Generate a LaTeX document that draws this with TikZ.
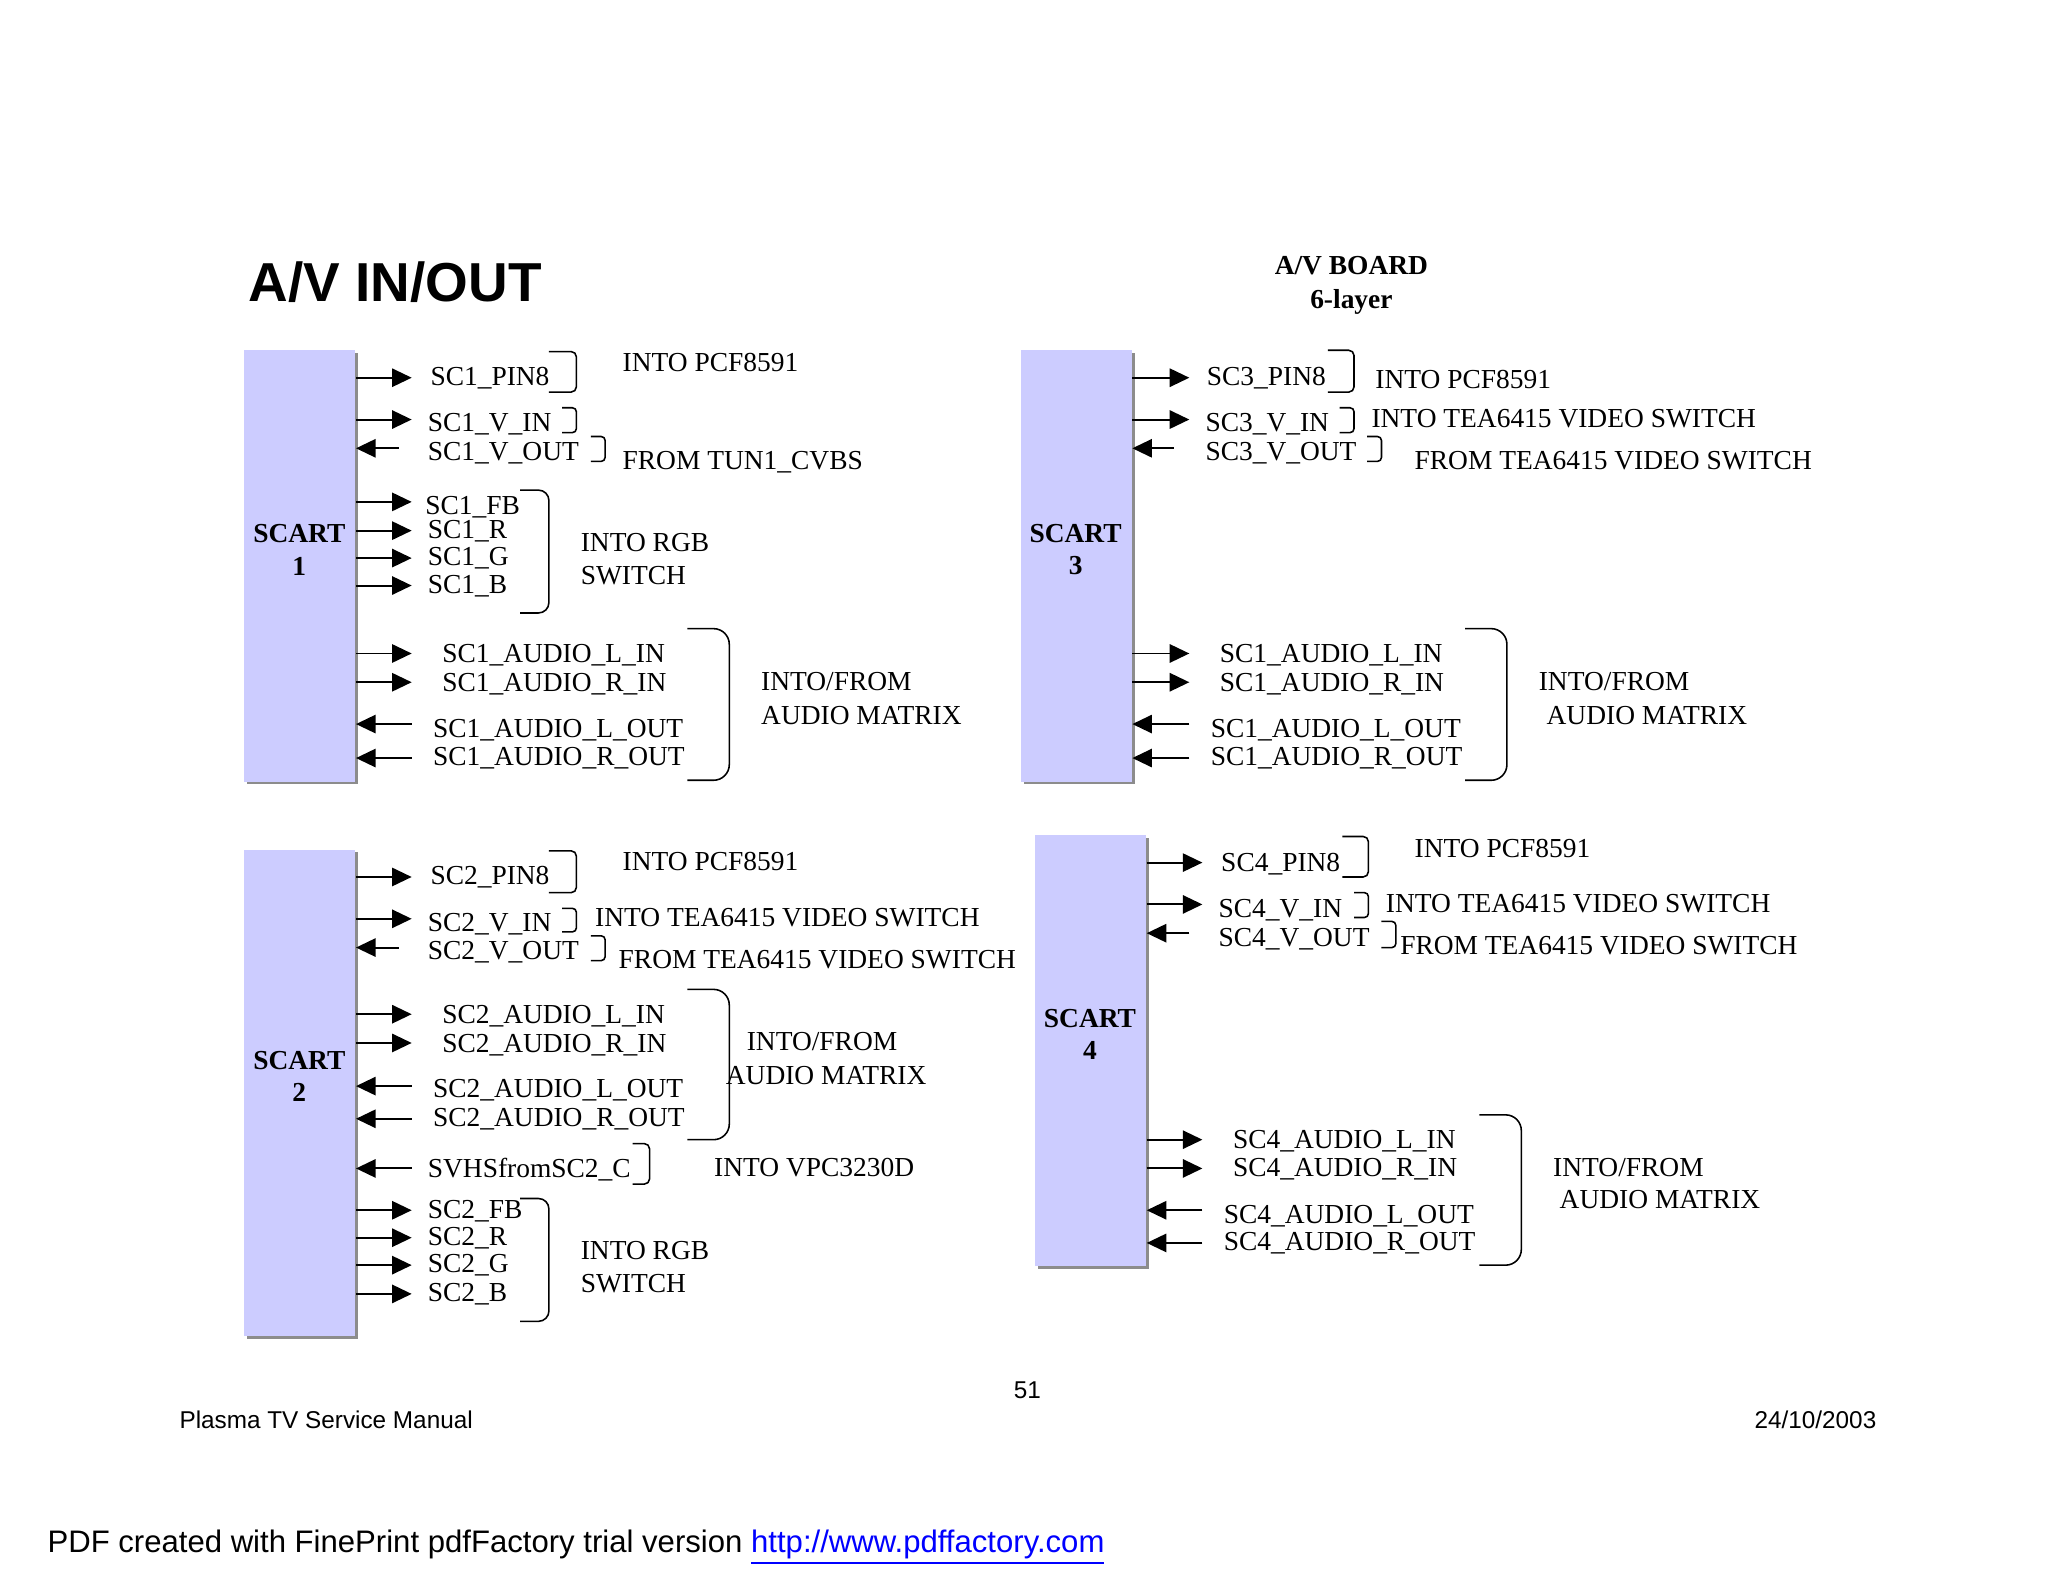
\documentclass[tikz,border=0pt]{standalone}
\usepackage{fontspec}
\setmainfont{Liberation Serif}
\newfontfamily\arialfont{Liberation Sans}
\usetikzlibrary{arrows.meta,shadows}
\definecolor{scartfill}{RGB}{204,204,255}
\definecolor{urlblue}{RGB}{0,0,255}
\tikzset{
  lbl/.style={anchor=base west, inner sep=0pt, font=\fontsize{10.5}{12}\selectfont},
  sigarr/.style={line width=0.75pt, -{Triangle[length=7.5pt,width=7pt]}},
  brk/.style={line width=0.6pt},
  scart/.style={fill=scartfill, draw=none, inner sep=0pt,
    drop shadow={shadow xshift=1.1pt, shadow yshift=-1.1pt, fill=black!45, opacity=1}},
  blbl/.style={font=\fontsize{10.5}{12.5}\selectfont\bfseries, align=center, inner sep=0pt},
  foot/.style={inner sep=0pt, font=\arialfont\fontsize{9.3}{11}\selectfont},
}
\newcommand\sigR[7]{%
  \coordinate (#2t) at (#4,#3);
  \draw[sigarr] (#1.east |- #2t) -- (#2t);
  \node[lbl] (#2) at (#5,#6) {#7};
}
\newcommand\sigL[7]{%
  \coordinate (#2t) at (#4,#3);
  \draw[sigarr] (#2t) -- (#1.east |- #2t);
  \node[lbl] (#2) at (#5,#6) {#7};
}
\newcommand\brk[5]{\draw[brk, rounded corners=#5] (#1,#3) -- (#2,#3) -- (#2,#4) -- (#1,#4);}
\begin{document}
\begin{tikzpicture}[x=0.5pt,y=-0.5pt]
\useasboundingbox[fill=white] (0,0) rectangle (1567,1210.5);

% header
\node[anchor=west, inner sep=0pt, font=\arialfont\bfseries\fontsize{21}{24}\selectfont] (title) at (190,216) {A/V IN/OUT};
\node[blbl, font=\fontsize{10.5}{13}\selectfont\bfseries] (board) at (1034,218) {A/V BOARD\\6-layer};

% SCART boxes
\node[scart, minimum width=42.5pt, minimum height=165pt] (s1) at (229.5,433) {};
\node[scart, minimum width=42.5pt, minimum height=186pt] (s2) at (229.5,836) {};
\node[scart, minimum width=42.5pt, minimum height=165pt] (s3) at (823.5,433) {};
\node[scart, minimum width=42.5pt, minimum height=165pt] (s4) at (834.5,804) {};
\node[blbl] (s1l) at (229,420.5) {SCART\\1};
\node[blbl] (s2l) at (229,823.5) {SCART\\2};
\node[blbl] (s3l) at (823,420.5) {SCART\\3};
\node[blbl] (s4l) at (834,791.5) {SCART\\4};

% ---- SCART 1 ----
\sigR{s1}{a1}{289}{315}{329}{295}{SC1\_PIN8}
\sigR{s1}{a2}{321}{315}{327}{330}{SC1\_V\_IN}
\sigL{s1}{a3}{343}{305}{327}{352}{SC1\_V\_OUT}
\sigR{s1}{a4}{384}{315}{325}{394}{SC1\_FB}
\sigR{s1}{a5}{406}{315}{327}{412}{SC1\_R}
\sigR{s1}{a6}{427}{315}{327}{433}{SC1\_G}
\sigR{s1}{a7}{448}{315}{327}{454}{SC1\_B}
\sigR{s1}{a8}{500}{315}{338}{507}{SC1\_AUDIO\_L\_IN}
\sigR{s1}{a9}{522}{315}{338}{529}{SC1\_AUDIO\_R\_IN}
\sigL{s1}{a10}{554}{315}{331}{564}{SC1\_AUDIO\_L\_OUT}
\sigL{s1}{a11}{580}{315}{331}{586}{SC1\_AUDIO\_R\_OUT}
\brk{420}{441}{269}{300}{2pt}
\brk{430}{441}{312}{331}{1.5pt}
\brk{452}{463}{334}{353}{1.5pt}
\brk{398}{420}{375}{469}{4pt}
\brk{526}{558}{481}{597}{6pt}
\node[lbl] (d1) at (476,284) {INTO PCF8591};
\node[lbl] (d2) at (476,359) {FROM TUN1\_CVBS};
\node[lbl] (d3) at (444,422) {INTO RGB};
\node[lbl] (d4) at (444,447) {SWITCH};
\node[lbl] (d5) at (582,528) {INTO/FROM};
\node[lbl] (d6) at (582,554) {AUDIO MATRIX};

% ---- SCART 3 ----
\sigR{s3}{c1}{289}{910}{923}{295}{SC3\_PIN8}
\sigR{s3}{c2}{321}{910}{922}{330}{SC3\_V\_IN}
\sigL{s3}{c3}{343}{898}{922}{352}{SC3\_V\_OUT}
\sigR{s3}{c4}{500}{910}{933}{507}{SC1\_AUDIO\_L\_IN}
\sigR{s3}{c5}{522}{910}{933}{529}{SC1\_AUDIO\_R\_IN}
\sigL{s3}{c6}{554}{910}{926}{564}{SC1\_AUDIO\_L\_OUT}
\sigL{s3}{c7}{580}{910}{926}{586}{SC1\_AUDIO\_R\_OUT}
\brk{1016}{1036}{268}{300}{2pt}
\brk{1025}{1036}{312}{331}{1.5pt}
\brk{1046}{1057}{334}{353}{1.5pt}
\brk{1121}{1153}{481}{597}{6pt}
\node[lbl] (f1) at (1052,297) {INTO PCF8591};
\node[lbl] (f2) at (1049,327) {INTO TEA6415 VIDEO SWITCH};
\node[lbl] (f3) at (1082,359) {FROM TEA6415 VIDEO SWITCH};
\node[lbl] (f4) at (1177,528) {INTO/FROM};
\node[lbl] (f5) at (1183,554) {AUDIO MATRIX};

% ---- SCART 2 ----
\sigR{s2}{b1}{671}{315}{329}{677}{SC2\_PIN8}
\sigR{s2}{b2}{703}{315}{327}{713}{SC2\_V\_IN}
\sigL{s2}{b3}{725}{305}{327}{734}{SC2\_V\_OUT}
\sigR{s2}{b4}{776}{315}{338}{783}{SC2\_AUDIO\_L\_IN}
\sigR{s2}{b5}{798}{315}{338}{805}{SC2\_AUDIO\_R\_IN}
\sigL{s2}{b6}{831}{315}{331}{840}{SC2\_AUDIO\_L\_OUT}
\sigL{s2}{b7}{856}{315}{331}{862}{SC2\_AUDIO\_R\_OUT}
\sigL{s2}{b8}{894}{315}{327}{901}{SVHSfromSC2\_C}
\sigR{s2}{b9}{926}{315}{327}{932}{SC2\_FB}
\sigR{s2}{b10}{947}{315}{327}{953}{SC2\_R}
\sigR{s2}{b11}{968}{315}{327}{974}{SC2\_G}
\sigR{s2}{b12}{990}{315}{327}{996}{SC2\_B}
\brk{420}{441}{651}{683}{2pt}
\brk{430}{441}{695}{713}{1.5pt}
\brk{452}{463}{716}{735}{1.5pt}
\brk{526}{558}{757}{872}{6pt}
\brk{484}{497}{875}{906}{2pt}
\brk{398}{420}{917}{1011}{4pt}
\node[lbl] (e1) at (476,666) {INTO PCF8591};
\node[lbl] (e2) at (455,709) {INTO TEA6415 VIDEO SWITCH};
\node[lbl] (e3) at (473,741) {FROM TEA6415 VIDEO SWITCH};
\node[lbl] (e4) at (571,804) {INTO/FROM};
\node[lbl] (e5) at (555,830) {AUDIO MATRIX};
\node[lbl] (e6) at (546,900) {INTO VPC3230D};
\node[lbl] (e7) at (444,964) {INTO RGB};
\node[lbl] (e8) at (444,989) {SWITCH};

% ---- SCART 4 ----
\sigR{s4}{g1}{660}{920}{934}{667}{SC4\_PIN8}
\sigR{s4}{g2}{692}{920}{932}{702}{SC4\_V\_IN}
\sigL{s4}{g3}{714}{910}{932}{724}{SC4\_V\_OUT}
\sigR{s4}{g4}{872}{920}{943}{879}{SC4\_AUDIO\_L\_IN}
\sigR{s4}{g5}{894}{920}{943}{900}{SC4\_AUDIO\_R\_IN}
\sigL{s4}{g6}{926}{920}{936}{936}{SC4\_AUDIO\_L\_OUT}
\sigL{s4}{g7}{951}{920}{936}{957}{SC4\_AUDIO\_R\_OUT}
\brk{1027}{1047}{640}{671}{2pt}
\brk{1036}{1047}{683}{702}{1.5pt}
\brk{1057}{1068}{705}{725}{1.5pt}
\brk{1132}{1164}{853}{968}{6pt}
\node[lbl] (h1) at (1082,656) {INTO PCF8591};
\node[lbl] (h2) at (1060,698) {INTO TEA6415 VIDEO SWITCH};
\node[lbl] (h3) at (1071,730) {FROM TEA6415 VIDEO SWITCH};
\node[lbl] (h4) at (1188,900) {INTO/FROM};
\node[lbl] (h5) at (1193,925) {AUDIO MATRIX};

% footer
\node[foot] (pg) at (786,1064) {51};
\node[foot, anchor=west] (man) at (137,1086) {Plasma TV Service Manual};
\node[foot, anchor=east] (date) at (1436,1086) {24/10/2003};
\node[anchor=west, inner sep=0pt, font=\arialfont\fontsize{11.9}{14}\selectfont] (pdf) at (36,1184)
  {PDF created with FinePrint pdfFactory trial version \textcolor{urlblue}{\underline{http://www.pdffactory.com}}};
\end{tikzpicture}
\end{document}
